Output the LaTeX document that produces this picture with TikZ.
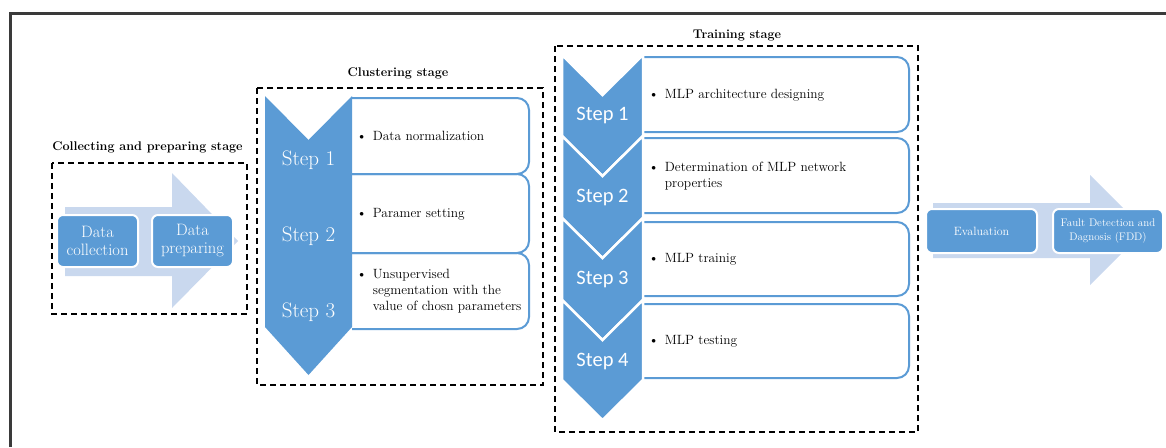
\documentclass[tikz,border=0pt]{standalone}
\usepackage{fontspec}
\newfontfamily\stepfont{Carlito}
\usepackage{tikz}
\usetikzlibrary{positioning}
\definecolor{smartblue}{HTML}{5B9BD5}
\definecolor{paleblue}{HTML}{C9D8EE}
\definecolor{framegray}{HTML}{3A3A3A}
\newcommand\bulletlines[1]{\begin{tabular}{@{}l@{\hspace{6pt}}l@{}}\textbullet&#1\end{tabular}}

\begin{document}
\begin{tikzpicture}[x=1pt,y=-1pt,
  stagebox/.style={draw=black,line width=2pt,dash pattern=on 6pt off 4pt},
  title/.style={font=\rmfamily\fontsize{12.6}{15}\selectfont\bfseries,inner sep=0pt},
  chev/.style={fill=smartblue,draw=white,line width=2.5pt,line join=miter},
  steplbl/.style={text=white,inner sep=0pt,font=\rmfamily\fontsize{21}{23}\selectfont},
  stepbox/.style={draw=smartblue,line width=2pt,rounded corners=12pt},
  item/.style={anchor=west,inner sep=0pt,font=\rmfamily\fontsize{13.4}{16}\selectfont},
  flowbox/.style={fill=smartblue,draw=white,line width=2pt,rounded corners=6pt,text=white,align=center,inner sep=0pt},
  bigarrow/.style={fill=paleblue,draw=none}]
  \useasboundingbox (0,0) rectangle (1166,447);
  \draw[framegray,line width=2.5pt] (10.5,447) -- (10.5,13.5) -- (1166,13.5);

  % collecting and preparing stage
  \fill[bigarrow] (65,207) -- (172,207) -- (172,173) -- (238,241) -- (172,308) -- (172,276) -- (65,276) -- cycle;
  \node[flowbox,minimum width=81pt,minimum height=52pt,font=\rmfamily\fontsize{16.5}{18}\selectfont] (coll) at (97.5,241) {Data\\collection};
  \node[flowbox,minimum width=81pt,minimum height=52pt,font=\rmfamily\fontsize{16.5}{18}\selectfont] (prep) at (192.5,241) {Data\\preparing};
  \draw[stagebox] (52,163) rectangle (247,314);
  \node[title] (tcoll) at (147.5,147) {Collecting and preparing stage};

  % clustering stage
  \draw[stepbox] (352,98) -- (529,98) -- (529,174) -- (352,174);
  \draw[stepbox] (352,174) -- (529,174) -- (529,253) -- (352,253);
  \draw[stepbox] (352,253) -- (529,253) -- (529,329) -- (352,329);
  \fill[smartblue] (265,96) -- (308.5,140) -- (352,96) -- (352,327) -- (308.5,375) -- (265,327) -- cycle;
  \node[steplbl] (cs1) at (308.5,160) {Step 1};
  \node[steplbl] (cs2) at (308.5,236) {Step 2};
  \node[steplbl] (cs3) at (308.5,312) {Step 3};
  \node[item] (ci1) at (356.5,137) {\bulletlines{Data normalization}};
  \node[item] (ci2) at (356.5,214) {\bulletlines{Paramer setting}};
  \node[item] (ci3) at (356.5,291) {\bulletlines{Unsupervised\\&segmentation with the\\&value of chosn parameters}};
  \draw[stagebox] (257,88) rectangle (543,385);
  \node[title] (tclus) at (398,73) {Clustering stage};

  % training stage
  \draw[stepbox] (643,57) -- (909,57) -- (909,132) -- (643,132);
  \draw[stepbox] (643,138) -- (909,138) -- (909,213) -- (643,213);
  \draw[stepbox] (643,222) -- (909,222) -- (909,296) -- (643,296);
  \draw[stepbox] (643,304) -- (909,304) -- (909,378) -- (643,378);
  \draw[chev] (562,55) -- (602.5,95) -- (643,55) -- (643,136) -- (602.5,176) -- (562,136) -- cycle;
  \draw[chev] (562,136) -- (602.5,176) -- (643,136) -- (643,218) -- (602.5,258) -- (562,218) -- cycle;
  \draw[chev] (562,218) -- (602.5,258) -- (643,218) -- (643,300) -- (602.5,340) -- (562,300) -- cycle;
  \draw[chev] (562,300) -- (602.5,340) -- (643,300) -- (643,380) -- (602.5,420) -- (562,380) -- cycle;
  \node[steplbl,font=\stepfont\fontsize{20.5}{23}\selectfont] (ts1) at (602.5,115) {Step 1};
  \node[steplbl,font=\stepfont\fontsize{20.5}{23}\selectfont] (ts2) at (602.5,197) {Step 2};
  \node[steplbl,font=\stepfont\fontsize{20.5}{23}\selectfont] (ts3) at (602.5,279) {Step 3};
  \node[steplbl,font=\stepfont\fontsize{20.5}{23}\selectfont] (ts4) at (602.5,361) {Step 4};
  \node[item] (ti1) at (648.5,95) {\bulletlines{MLP architecture designing}};
  \node[item] (ti2) at (648.5,176) {\bulletlines{Determination of MLP network\\&properties}};
  \node[item] (ti3) at (648.5,259) {\bulletlines{MLP trainig}};
  \node[item] (ti4) at (648.5,341) {\bulletlines{MLP testing}};
  \draw[stagebox] (555,46) rectangle (918,432);
  \node[title] (ttrain) at (737,35) {Training stage};

  % evaluation and diagnosis
  \fill[bigarrow] (933,203) -- (1090,203) -- (1090,175) -- (1145,230) -- (1090,285) -- (1090,258) -- (933,258) -- cycle;
  \node[flowbox,minimum width=111pt,minimum height=44pt,font=\rmfamily\fontsize{12}{14}\selectfont] (eval) at (981.5,231) {Evaluation};
  \node[flowbox,minimum width=110pt,minimum height=44pt,font=\rmfamily\fontsize{11}{13.5}\selectfont] (fdd) at (1108,231) {Fault Detection and\\Dagnosis (FDD)};
\end{tikzpicture}
\end{document}
